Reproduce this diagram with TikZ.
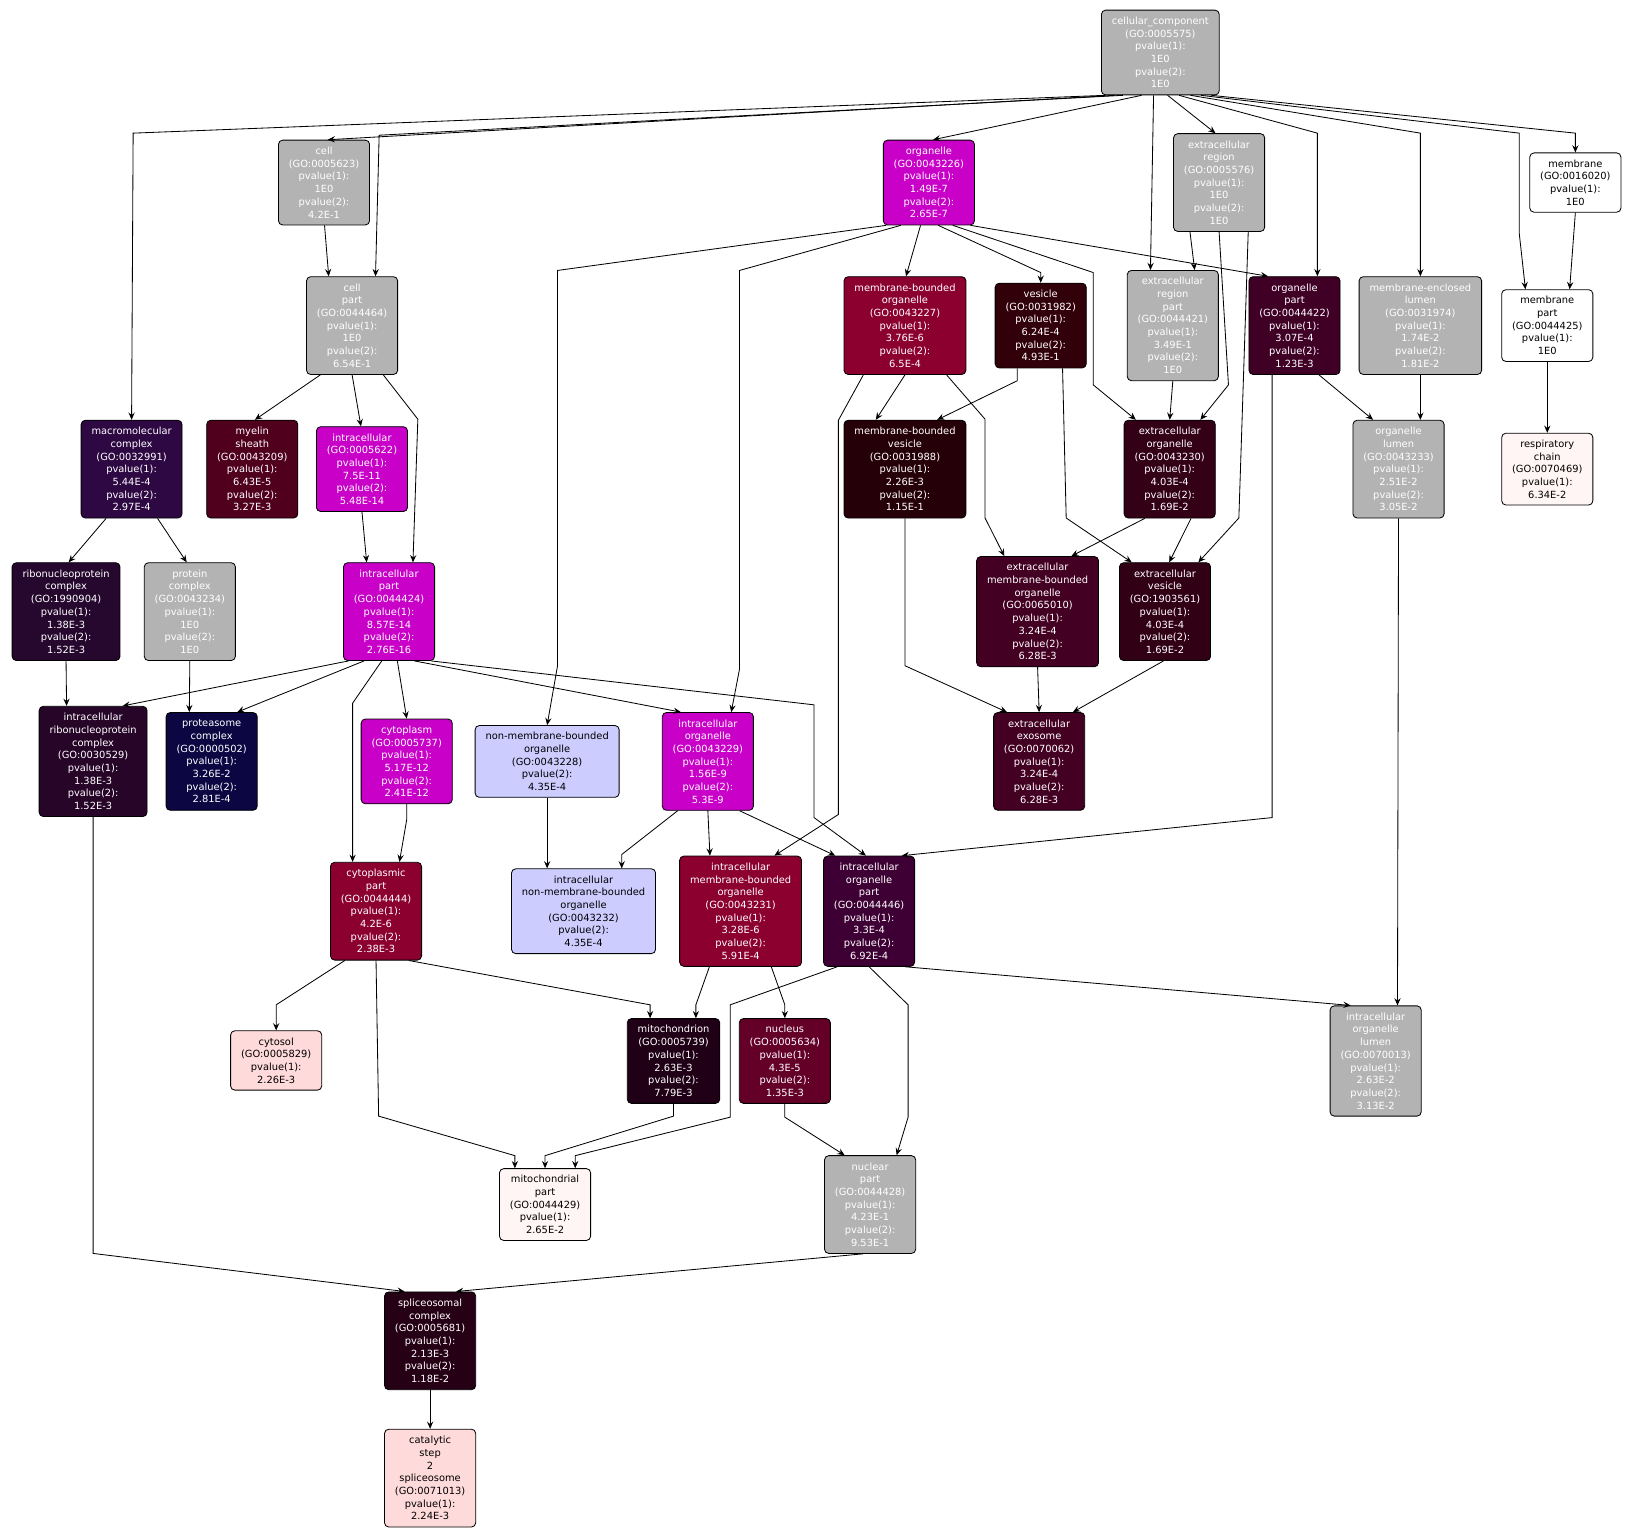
\documentclass[tikz,border=0pt]{standalone}
\usepackage{fontspec}
\setmainfont{DejaVu Sans}
\usepackage{tikz}
\usetikzlibrary{arrows.meta}
\usepackage{xcolor}
\definecolor{gogray}{RGB}{179,179,179}
\definecolor{gomag}{RGB}{200,0,200}
\definecolor{gocrim}{RGB}{140,0,48}
\definecolor{golav}{RGB}{204,204,255}
\definecolor{gopink}{RGB}{255,218,218}
\definecolor{gopale}{RGB}{255,245,245}
\definecolor{cmacro}{RGB}{46,8,66}
\definecolor{cmyelin}{RGB}{80,0,28}
\definecolor{crnp}{RGB}{38,8,46}
\definecolor{cirnp}{RGB}{38,5,40}
\definecolor{cprot}{RGB}{12,6,66}
\definecolor{cves}{RGB}{50,0,8}
\definecolor{cmbv}{RGB}{38,0,8}
\definecolor{cexorg}{RGB}{52,0,22}
\definecolor{corgp}{RGB}{64,0,38}
\definecolor{cexmbo}{RGB}{68,0,34}
\definecolor{cexves}{RGB}{50,0,20}
\definecolor{cexo}{RGB}{68,0,34}
\definecolor{ciorgp}{RGB}{62,0,52}
\definecolor{cmito}{RGB}{32,0,22}
\definecolor{cnuc}{RGB}{100,0,40}
\definecolor{csplice}{RGB}{38,0,20}
\tikzset{
  term/.style ={draw=black, line width=0.8pt, rounded corners=4pt,
                align=center, inner xsep=10pt, inner ysep=2pt,
                minimum width=87pt, font=\fontsize{9.5}{12.2}\selectfont},
  dk/.style   ={term, text=white},
  lt/.style   ={term, text=black},
  h4/.style   ={minimum height=57pt},
  h5/.style   ={minimum height=69pt},
  h6/.style   ={minimum height=81.5pt},
  h7/.style   ={minimum height=94pt},
  h8/.style   ={minimum height=106pt},
  isa/.style  ={-{Stealth[length=7pt, width=6pt, inset=2.5pt]}, line width=0.8pt},
}

\begin{document}
\begin{tikzpicture}[x=1pt, y=-1pt]
\useasboundingbox (0,0) rectangle (1568,1477);
\fill[white] (0,0) rectangle (1568,1477);

\node[dk, h6, fill=gogray] (cc) at (1115.5,50.5)
  {cellular\_component\\(GO:0005575)\\pvalue(1):\\1E0\\pvalue(2):\\1E0};

\node[dk, h6, fill=gogray] (cell) at (311.5,175.5)
  {cell\\(GO:0005623)\\pvalue(1):\\1E0\\pvalue(2):\\4.2E-1};
\node[dk, h6, fill=gomag] (org) at (893,175.5)
  {organelle\\(GO:0043226)\\pvalue(1):\\1.49E-7\\pvalue(2):\\2.65E-7};
\node[dk, h7, fill=gogray] (exreg) at (1172,175.5)
  {extracellular\\region\\(GO:0005576)\\pvalue(1):\\1E0\\pvalue(2):\\1E0};
\node[lt, h4, fill=white] (membrane) at (1514.5,175.5)
  {membrane\\(GO:0016020)\\pvalue(1):\\1E0};

\node[dk, h7, fill=gogray] (cellpart) at (338.5,313)
  {cell\\part\\(GO:0044464)\\pvalue(1):\\1E0\\pvalue(2):\\6.54E-1};
\node[dk, h7, fill=gocrim] (mbo) at (870,313)
  {membrane-bounded\\organelle\\(GO:0043227)\\pvalue(1):\\3.76E-6\\pvalue(2):\\6.5E-4};
\node[dk, h6, fill=cves] (vesicle) at (1000.5,313)
  {vesicle\\(GO:0031982)\\pvalue(1):\\6.24E-4\\pvalue(2):\\4.93E-1};
\node[dk, h8, fill=gogray] (exregpart) at (1127.5,313)
  {extracellular\\region\\part\\(GO:0044421)\\pvalue(1):\\3.49E-1\\pvalue(2):\\1E0};
\node[dk, h7, fill=corgp] (orgpart) at (1244.5,313)
  {organelle\\part\\(GO:0044422)\\pvalue(1):\\3.07E-4\\pvalue(2):\\1.23E-3};
\node[dk, h7, fill=gogray] (melumen) at (1365.5,313)
  {membrane-enclosed\\lumen\\(GO:0031974)\\pvalue(1):\\1.74E-2\\pvalue(2):\\1.81E-2};
\node[lt, h5, fill=white] (mempart) at (1487.5,313)
  {membrane\\part\\(GO:0044425)\\pvalue(1):\\1E0};

\node[dk, h7, fill=cmacro] (macro) at (126.5,451)
  {macromolecular\\complex\\(GO:0032991)\\pvalue(1):\\5.44E-4\\pvalue(2):\\2.97E-4};
\node[dk, h7, fill=cmyelin] (myelin) at (242.5,451)
  {myelin\\sheath\\(GO:0043209)\\pvalue(1):\\6.43E-5\\pvalue(2):\\3.27E-3};
\node[dk, h6, fill=gomag] (intra) at (348,451)
  {intracellular\\(GO:0005622)\\pvalue(1):\\7.5E-11\\pvalue(2):\\5.48E-14};
\node[dk, h7, fill=cmbv] (mbv) at (870,451)
  {membrane-bounded\\vesicle\\(GO:0031988)\\pvalue(1):\\2.26E-3\\pvalue(2):\\1.15E-1};
\node[dk, h7, fill=cexorg] (exorg) at (1124.5,451)
  {extracellular\\organelle\\(GO:0043230)\\pvalue(1):\\4.03E-4\\pvalue(2):\\1.69E-2};
\node[dk, h7, fill=gogray] (orglumen) at (1344.5,451)
  {organelle\\lumen\\(GO:0043233)\\pvalue(1):\\2.51E-2\\pvalue(2):\\3.05E-2};
\node[lt, h5, fill=gopale] (respchain) at (1487.5,451)
  {respiratory\\chain\\(GO:0070469)\\pvalue(1):\\6.34E-2};

\node[dk, h7, fill=crnp] (rnp) at (63.5,588)
  {ribonucleoprotein\\complex\\(GO:1990904)\\pvalue(1):\\1.38E-3\\pvalue(2):\\1.52E-3};
\node[dk, h7, fill=gogray] (protcomplex) at (182.5,588)
  {protein\\complex\\(GO:0043234)\\pvalue(1):\\1E0\\pvalue(2):\\1E0};
\node[dk, h7, fill=gomag] (intrapart) at (374,588)
  {intracellular\\part\\(GO:0044424)\\pvalue(1):\\8.57E-14\\pvalue(2):\\2.76E-16};
\node[dk, h8, fill=cexmbo] (exmbo) at (997.5,588)
  {extracellular\\membrane-bounded\\organelle\\(GO:0065010)\\pvalue(1):\\3.24E-4\\pvalue(2):\\6.28E-3};
\node[dk, h7, fill=cexves] (exves) at (1120,588)
  {extracellular\\vesicle\\(GO:1903561)\\pvalue(1):\\4.03E-4\\pvalue(2):\\1.69E-2};

\node[dk, h8, fill=cirnp] (irnp) at (89.5,732)
  {intracellular\\ribonucleoprotein\\complex\\(GO:0030529)\\pvalue(1):\\1.38E-3\\pvalue(2):\\1.52E-3};
\node[dk, h7, fill=cprot] (proteasome) at (203.5,732)
  {proteasome\\complex\\(GO:0000502)\\pvalue(1):\\3.26E-2\\pvalue(2):\\2.81E-4};
\node[dk, h6, fill=gomag] (cytoplasm) at (391,732)
  {cytoplasm\\(GO:0005737)\\pvalue(1):\\5.17E-12\\pvalue(2):\\2.41E-12};
\node[lt, h5, fill=golav] (nmbo) at (526,732)
  {non-membrane-bounded\\organelle\\(GO:0043228)\\pvalue(2):\\4.35E-4};
\node[dk, h7, fill=gomag] (intraorg) at (680.5,732)
  {intracellular\\organelle\\(GO:0043229)\\pvalue(1):\\1.56E-9\\pvalue(2):\\5.3E-9};
\node[dk, h7, fill=cexo] (exosome) at (999,732)
  {extracellular\\exosome\\(GO:0070062)\\pvalue(1):\\3.24E-4\\pvalue(2):\\6.28E-3};

\node[dk, h7, fill=gocrim] (cytpart) at (361.5,876)
  {cytoplasmic\\part\\(GO:0044444)\\pvalue(1):\\4.2E-6\\pvalue(2):\\2.38E-3};
\node[lt, h6, fill=golav] (inmbo) at (561,876)
  {intracellular\\non-membrane-bounded\\organelle\\(GO:0043232)\\pvalue(2):\\4.35E-4};
\node[dk, h8, fill=gocrim] (imbo) at (712,876)
  {intracellular\\membrane-bounded\\organelle\\(GO:0043231)\\pvalue(1):\\3.28E-6\\pvalue(2):\\5.91E-4};
\node[dk, h8, fill=ciorgp] (iorgpart) at (835.5,876)
  {intracellular\\organelle\\part\\(GO:0044446)\\pvalue(1):\\3.3E-4\\pvalue(2):\\6.92E-4};

\node[lt, h4, fill=gopink] (cytosol) at (265.5,1019.5)
  {cytosol\\(GO:0005829)\\pvalue(1):\\2.26E-3};
\node[dk, h6, fill=cmito] (mito) at (647.5,1020)
  {mitochondrion\\(GO:0005739)\\pvalue(1):\\2.63E-3\\pvalue(2):\\7.79E-3};
\node[dk, h6, fill=cnuc] (nucleus) at (754.5,1020)
  {nucleus\\(GO:0005634)\\pvalue(1):\\4.3E-5\\pvalue(2):\\1.35E-3};
\node[dk, h8, fill=gogray] (iolumen) at (1322.5,1020)
  {intracellular\\organelle\\lumen\\(GO:0070013)\\pvalue(1):\\2.63E-2\\pvalue(2):\\3.13E-2};

\node[lt, h5, fill=gopale] (mitopart) at (524,1158)
  {mitochondrial\\part\\(GO:0044429)\\pvalue(1):\\2.65E-2};
\node[dk, h7, fill=gogray] (nucpart) at (836.5,1158)
  {nuclear\\part\\(GO:0044428)\\pvalue(1):\\4.23E-1\\pvalue(2):\\9.53E-1};

\node[dk, h7, fill=csplice] (splice) at (413.5,1289)
  {spliceosomal\\complex\\(GO:0005681)\\pvalue(1):\\2.13E-3\\pvalue(2):\\1.18E-2};
\node[lt, h7, fill=gopink] (catstep) at (413.5,1421)
  {catalytic\\step\\2\\spliceosome\\(GO:0071013)\\pvalue(1):\\2.24E-3};

\draw[isa] ([xshift=-53]cc.south) -- (128,128) -- (macro.north);
\draw[isa] ([xshift=-44]cc.south) -- ([xshift=3.5]cell.north);
\draw[isa] ([xshift=-36]cc.south) -- (364.5,130) -- ([xshift=22.5]cellpart.north);
\draw[isa] ([xshift=-18]cc.south) -- ([xshift=4]org.north);
\draw[isa] ([xshift=-6.5]cc.south) -- ([xshift=-21.5]exregpart.north);
\draw[isa] ([xshift=7]cc.south) -- ([xshift=-3.5]exreg.north);
\draw[isa] ([xshift=18]cc.south) -- (1266.5,128) -- ([xshift=22]orgpart.north);
\draw[isa] ([xshift=29]cc.south) -- (1365.5,128) -- (melumen.north);
\draw[isa] ([xshift=39]cc.south) -- (1460.5,128) -- (1460.5,224)
  -- ([xshift=-21]mempart.north);
\draw[isa] ([xshift=49]cc.south) -- (1514.5,128) -- (membrane.north);

\draw[isa] ([xshift=-41]org.south) -- (536,260) -- (536,640) -- (nmbo.north);
\draw[isa] ([xshift=-27]org.south) -- (711,260) -- (711,643)
  -- ([xshift=22.5]intraorg.north);
\draw[isa] ([xshift=-8]org.south) -- ([xshift=1]mbo.north);
\draw[isa] ([xshift=9]org.south) -- (1000.5,262) -- (vesicle.north);
\draw[isa] ([xshift=23]org.south) -- (1051,262) -- (1051,370)
  -- ([xshift=-32.5]exorg.north);
\draw[isa] ([xshift=40]org.south) -- ([xshift=-25.5]orgpart.north);

\draw[isa] ([xshift=-28]exreg.south) -- ([xshift=21]exregpart.north);
\draw[isa] (exreg.south) -- (1181,370) -- ([xshift=29.5]exorg.north);
\draw[isa] ([xshift=28]exreg.south) -- (1191,498) -- ([xshift=32]exves.north);
\draw[isa] (membrane.south) -- ([xshift=21.5]mempart.north);
\draw[isa] (mempart.south) -- (respchain.north);

\draw[isa] ([xshift=0.5]cell.south) -- ([xshift=-22.5]cellpart.north);
\draw[isa] ([xshift=-30.5]cellpart.south) -- ([xshift=2.5]myelin.north);
\draw[isa] (cellpart.south) -- ([xshift=-1]intra.north);
\draw[isa] ([xshift=30]cellpart.south) -- (401.7,403) -- ([xshift=23]intrapart.north);

\draw[isa] (mbo.south) -- ([xshift=-28]mbv.north);
\draw[isa] ([xshift=-40]mbo.south) -- (806,404) -- (806,783)
  -- ([xshift=32.5]imbo.north);
\draw[isa] ([xshift=40]mbo.south) -- (947,403) -- (947,498)
  -- ([xshift=-32]exmbo.north);
\draw[isa] ([xshift=-22.5]vesicle.south) -- (978,366) -- ([xshift=31]mbv.north);
\draw[isa] ([xshift=21]vesicle.south) -- (1025,498) -- ([xshift=-32]exves.north);
\draw[isa] (exregpart.south) -- (exorg.north);
\draw[isa] ([xshift=23.5]orgpart.south) -- ([xshift=-24.5]orglumen.north);
\draw[isa] ([xshift=-21.5]orgpart.south) -- (1223,786)
  -- ([xshift=31.5]iorgpart.north);
\draw[isa] (melumen.south) -- ([xshift=21]orglumen.north);

\draw[isa] ([xshift=-24.5]macro.south) -- ([xshift=2.5]rnp.north);
\draw[isa] ([xshift=25]macro.south) -- ([xshift=-3]protcomplex.north);
\draw[isa] (intra.south) -- ([xshift=-21.5]intrapart.north);
\draw[isa] ([xshift=-24]exorg.south) -- ([xshift=32.5]exmbo.north);
\draw[isa] ([xshift=20.5]exorg.south) -- ([xshift=4]exves.north);
\draw[isa] (orglumen.south) -- ([xshift=21]iolumen.north);

\draw[isa] (rnp.south) -- ([xshift=-25.5]irnp.north);
\draw[isa] (protcomplex.south) -- ([xshift=-21.5]proteasome.north);
\draw[isa] ([xshift=-39]intrapart.south) -- ([xshift=28.5]irnp.north);
\draw[isa] ([xshift=-24]intrapart.south) -- ([xshift=24.5]proteasome.north);
\draw[isa] ([xshift=-7]intrapart.south) -- (339,676) -- ([xshift=-22.5]cytpart.north);
\draw[isa] ([xshift=8]intrapart.south) -- (cytoplasm.north);
\draw[isa] ([xshift=24.5]intrapart.south) -- ([xshift=-26]intraorg.north);
\draw[isa] ([xshift=40.5]intrapart.south) -- (782.6,677.6) -- (782.6,786)
  -- ([xshift=-3]iorgpart.north);
\draw[isa] (exmbo.south) -- (exosome.north);
\draw[isa] ([xshift=-1.5]exves.south) -- ([xshift=32.5]exosome.north);
\draw[isa] (mbv.south) -- (870,640) -- ([xshift=-31]exosome.north);

\draw[isa] (irnp.south) -- (89.5,1205) -- ([xshift=-24.5]splice.north);
\draw[isa] (cytoplasm.south) -- (391,788) -- ([xshift=22.5]cytpart.north);
\draw[isa] (nmbo.south) -- ([xshift=-35]inmbo.north);
\draw[isa] ([xshift=-29]intraorg.south) -- (597.7,821.5) -- ([xshift=36.7]inmbo.north);
\draw[isa] (intraorg.south) -- ([xshift=-29.5]imbo.north);
\draw[isa] ([xshift=30.5]intraorg.south) -- ([xshift=-32.5]iorgpart.north);

\draw[isa] ([xshift=-30]cytpart.south) -- (265.5,966) -- (cytosol.north);
\draw[isa] ([xshift=31.5]cytpart.south) -- (625,966) -- ([xshift=-22.5]mito.north);
\draw[isa] (cytpart.south) -- (364,1073) -- (495,1111) -- ([xshift=-29]mitopart.north);
\draw[isa] ([xshift=-30]imbo.south) -- (669,966) -- ([xshift=21.5]mito.north);
\draw[isa] ([xshift=29.5]imbo.south) -- (754.5,966) -- (nucleus.north);
\draw[isa] ([xshift=34.5]iorgpart.south) -- ([xshift=-24]iolumen.north);
\draw[isa] (iorgpart.south) -- (873,966) -- (873,1074) -- ([xshift=25.5]nucpart.north);
\draw[isa] ([xshift=-30.5]iorgpart.south) -- (702,966) -- (702,1074) -- (553,1111)
  -- ([xshift=29]mitopart.north);

\draw[isa] (mito.south) -- (647.5,1073) -- (524,1111) -- (mitopart.north);
\draw[isa] (nucleus.south) -- (754.5,1074) -- ([xshift=-24.5]nucpart.north);
\draw[isa] ([xshift=-7]nucpart.south) -- ([xshift=25]splice.north);
\draw[isa] (splice.south) -- (catstep.north);
\end{tikzpicture}
\end{document}
